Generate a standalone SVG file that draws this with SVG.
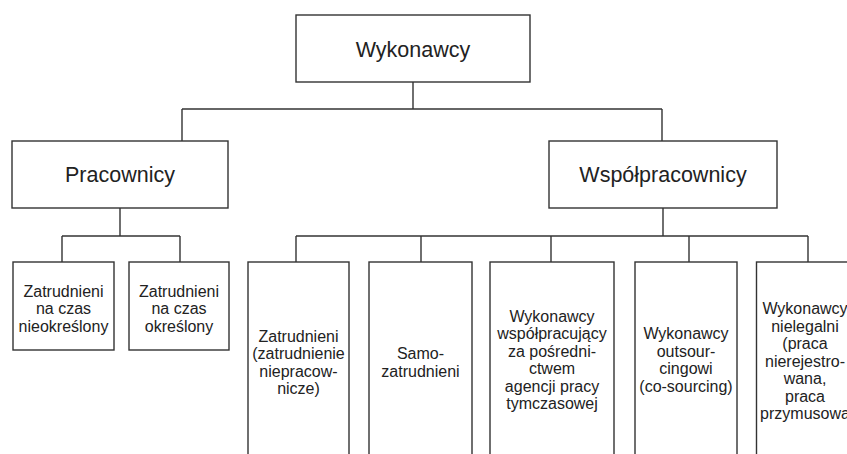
<svg xmlns="http://www.w3.org/2000/svg" width="847" height="454" viewBox="0 0 847 454">
<style>
.box{fill:#fff;stroke:#333;stroke-width:1.4}
.conn line{stroke:#333;stroke-width:1.4}
text{font-family:"Liberation Sans",Arial,sans-serif;fill:#222;text-anchor:middle}
.big{font-size:21.5px}
.sm{font-size:16px}
</style>
<rect width="847" height="454" fill="#fff"/>
<g id="connectors" class="conn">
<line x1="413" y1="82" x2="413" y2="109"/>
<line x1="182" y1="109" x2="662" y2="109"/>
<line x1="182" y1="109" x2="182" y2="141"/>
<line x1="662" y1="109" x2="662" y2="141"/>
<line x1="120" y1="208" x2="120" y2="236"/>
<line x1="62" y1="236" x2="180" y2="236"/>
<line x1="62" y1="236" x2="62" y2="262"/>
<line x1="180" y1="236" x2="180" y2="262"/>
<line x1="663" y1="208" x2="663" y2="236"/>
<line x1="296" y1="236" x2="808" y2="236"/>
<line x1="296" y1="236" x2="296" y2="262"/>
<line x1="421" y1="236" x2="421" y2="262"/>
<line x1="551" y1="236" x2="551" y2="262"/>
<line x1="689" y1="236" x2="689" y2="262"/>
<line x1="808" y1="236" x2="808" y2="262"/>
</g>
<g id="wykonawcy">
<rect class="box" x="296" y="15" width="234" height="67"/>
<text class="big" x="413" y="57">Wykonawcy</text>
</g>
<g id="pracownicy">
<rect class="box" x="12" y="141" width="216" height="67"/>
<text class="big" x="120" y="182">Pracownicy</text>
</g>
<g id="wspolpracownicy">
<rect class="box" x="549" y="141" width="228" height="67"/>
<text class="big" x="663" y="182">Współpracownicy</text>
</g>
<g id="nieokreslony">
<rect class="box" x="13" y="262" width="101" height="88"/>
<text class="sm" x="63.5" y="296.5">Zatrudnieni</text>
<text class="sm" x="63.5" y="314">na czas</text>
<text class="sm" x="63.5" y="331.5">nieokreślony</text>
</g>
<g id="okreslony">
<rect class="box" x="129" y="262" width="100" height="88"/>
<text class="sm" x="179" y="296.5">Zatrudnieni</text>
<text class="sm" x="179" y="314">na czas</text>
<text class="sm" x="179" y="331.5">określony</text>
</g>
<g id="niepracownicze">
<rect class="box" x="248" y="262" width="101" height="220"/>
<text class="sm" x="298.5" y="341.5">Zatrudnieni</text>
<text class="sm" x="298.5" y="359">(zatrudnienie</text>
<text class="sm" x="298.5" y="376.5">niepracow-</text>
<text class="sm" x="298.5" y="394">nicze)</text>
</g>
<g id="samozatrudnieni">
<rect class="box" x="369" y="262" width="103" height="220"/>
<text class="sm" x="420.5" y="359">Samo-</text>
<text class="sm" x="420.5" y="376.5">zatrudnieni</text>
</g>
<g id="agencja">
<rect class="box" x="490" y="262" width="124" height="220"/>
<text class="sm" x="552" y="321.5">Wykonawcy</text>
<text class="sm" x="552" y="339">współpracujący</text>
<text class="sm" x="552" y="356.5">za pośredni-</text>
<text class="sm" x="552" y="374">ctwem</text>
<text class="sm" x="552" y="391.5">agencji pracy</text>
<text class="sm" x="552" y="409">tymczasowej</text>
</g>
<g id="outsourcing">
<rect class="box" x="635" y="262" width="102" height="220"/>
<text class="sm" x="686" y="339">Wykonawcy</text>
<text class="sm" x="686" y="356.5">outsour-</text>
<text class="sm" x="686" y="374">cingowi</text>
<text class="sm" x="686" y="391.5">(co-sourcing)</text>
</g>
<g id="nielegalni">
<rect class="box" x="756.5" y="262" width="104" height="220"/>
<text class="sm" x="805" y="314">Wykonawcy</text>
<text class="sm" x="805" y="331.5">nielegalni</text>
<text class="sm" x="805" y="349">(praca</text>
<text class="sm" x="805" y="366.5">nierejestro-</text>
<text class="sm" x="805" y="384">wana,</text>
<text class="sm" x="805" y="401.5">praca</text>
<text class="sm" x="805" y="419">przymusowa</text>
</g>
</svg>
